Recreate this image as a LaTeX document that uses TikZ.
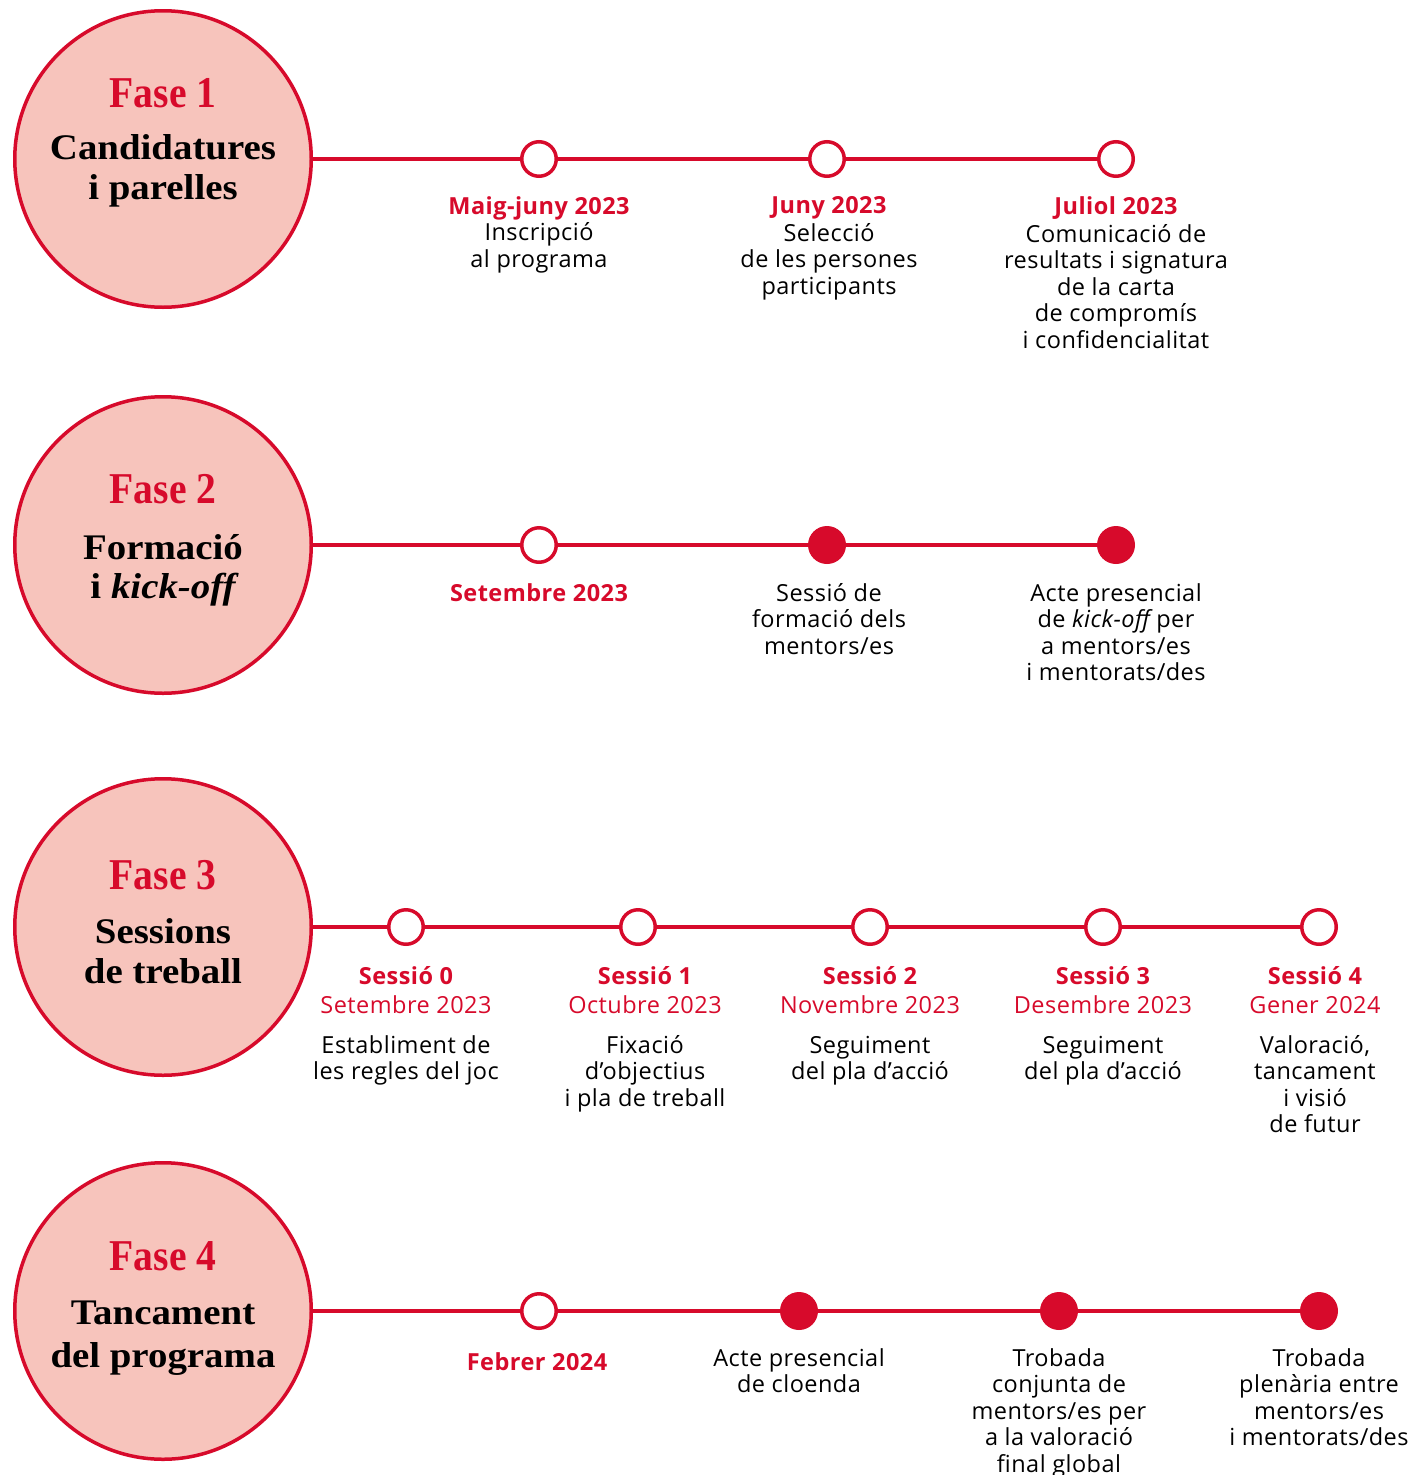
\documentclass[tikz,border=0pt]{standalone}
\usepackage{fontspec}
\newfontfamily\bodyfont[LetterSpace=2.0]{Open Sans}
\newfontfamily\subfont[FakeStretch=1.08]{Liberation Serif}
\newfontfamily\fasefont[FakeStretch=0.9]{Liberation Serif}
\definecolor{fred}{RGB}{215,10,43}
\definecolor{fpink}{RGB}{247,196,188}
\newcommand\dte[1]{\textcolor{fred}{\bfseries #1}}
\newcommand\mth[1]{\textcolor{fred}{#1}}
\begin{document}
\begin{tikzpicture}[x=1pt,y=-1pt,
 phase/.style={circle, draw=fred, fill=fpink, line width=3.5pt, minimum size=296.5pt, inner sep=0pt},
 tl/.style={draw=fred, line width=4pt},
 openpt/.style={circle, draw=fred, fill=white, line width=3.5pt, minimum size=34.5pt, inner sep=0pt},
 fullpt/.style={circle, fill=fred, minimum size=38pt, inner sep=0pt},
 fasetxt/.style={anchor=base, inner sep=0pt, text=fred, font=\fasefont\bfseries\fontsize{44}{48}\selectfont},
 subtxt/.style={anchor=north, inner sep=0pt, align=center, font=\subfont\bfseries\fontsize{36}{40}\selectfont, execute at begin node=\strut},
 ev/.style={anchor=north, inner sep=0pt, align=center, font=\bodyfont\fontsize{23.5}{26.5}\selectfont, execute at begin node=\strut},
]
\fill[white] (0,0) rectangle (1426,1475);
\useasboundingbox (0,0) rectangle (1426,1475);

% ---------- Fase 1
\node[phase] (f1) at (163,159) {};
\node[fasetxt] (f1t) at (163,107) {Fase 1};
\node[subtxt] (f1s) at (163,134) {Candidatures\\i parelles};
\node[openpt] (a1) at (539,159) {};
\node[openpt] (a2) at (827,159) {};
\node[openpt] (a3) at (1116,159) {};
\draw[tl] (f1) -- (a1) -- (a2) -- (a3);
\node[ev] (a1t) at (539,196) {\dte{Maig-juny 2023}\\Inscripció\\al programa};
\node[ev] (a2t) at (829,196) {\dte{Juny 2023}\\[1.5pt]Selecció\\de les persones\\participants};
\node[ev] (a3t) at (1116,196) {\dte{Juliol 2023}\\[1.5pt]Comunicació de\\resultats i signatura\\de la carta\\de compromís\\i confidencialitat};

% ---------- Fase 2
\node[phase] (f2) at (163,545) {};
\node[fasetxt] (f2t) at (163,503) {Fase 2};
\node[subtxt, font=\subfont\bfseries\fontsize{36}{39}\selectfont] (f2s) at (163,534) {Formació\\i {\itshape kick-off}};
\node[openpt] (b1) at (539,545) {};
\node[fullpt] (b2) at (827,545) {};
\node[fullpt] (b3) at (1116,545) {};
\draw[tl] (f2) -- (b1) -- (b2) -- (b3);
\node[ev] (b1t) at (539,583) {\dte{Setembre 2023}};
\node[ev] (b2t) at (829,583) {Sessió de\\formació dels\\mentors/es};
\node[ev] (b3t) at (1116,583) {Acte presencial\\de {\itshape kick-off} per\\a mentors/es\\i mentorats/des};

% ---------- Fase 3
\node[phase] (f3) at (163,927) {};
\node[fasetxt] (f3t) at (163,889) {Fase 3};
\node[subtxt] (f3s) at (163,918) {Sessions\\de treball};
\node[openpt] (c1) at (406,927) {};
\node[openpt] (c2) at (638,927) {};
\node[openpt] (c3) at (870,927) {};
\node[openpt] (c4) at (1103,927) {};
\node[openpt] (c5) at (1319,927) {};
\draw[tl] (f3) -- (c1) -- (c2) -- (c3) -- (c4) -- (c5);
\node[ev] (c1t) at (406,966) {\dte{Sessió 0}\\[3pt]\mth{Setembre 2023}\\[13pt]Establiment de\\les regles del joc};
\node[ev] (c2t) at (645,966) {\dte{Sessió 1}\\[3pt]\mth{Octubre 2023}\\[13pt]Fixació\\d’objectius\\i pla de treball};
\node[ev] (c3t) at (870,966) {\dte{Sessió 2}\\[3pt]\mth{Novembre 2023}\\[13pt]Seguiment\\del pla d’acció};
\node[ev] (c4t) at (1103,966) {\dte{Sessió 3}\\[3pt]\mth{Desembre 2023}\\[13pt]Seguiment\\del pla d’acció};
\node[ev] (c5t) at (1315,966) {\dte{Sessió 4}\\[3pt]\mth{Gener 2024}\\[13pt]Valoració,\\tancament\\i visió\\de futur};

% ---------- Fase 4
\node[phase] (f4) at (163,1311) {};
\node[fasetxt] (f4t) at (163,1270) {Fase 4};
\node[subtxt, font=\subfont\bfseries\fontsize{36}{43}\selectfont] (f4s) at (163,1300.5) {Tancament\\del programa};
\node[openpt] (d1) at (539,1311) {};
\node[fullpt] (d2) at (799,1311) {};
\node[fullpt] (d3) at (1059,1311) {};
\node[fullpt] (d4) at (1319,1311) {};
\draw[tl] (f4) -- (d1) -- (d2) -- (d3) -- (d4);
\node[ev] (d1t) at (537,1352) {\dte{Febrer 2024}};
\node[ev] (d2t) at (799,1348) {Acte presencial\\de cloenda};
\node[ev] (d3t) at (1059,1348) {Trobada\\conjunta de\\mentors/es per\\a la valoració\\final global};
\node[ev] (d4t) at (1319,1348) {Trobada\\plenària entre\\mentors/es\\i mentorats/des};
\end{tikzpicture}
\end{document}
